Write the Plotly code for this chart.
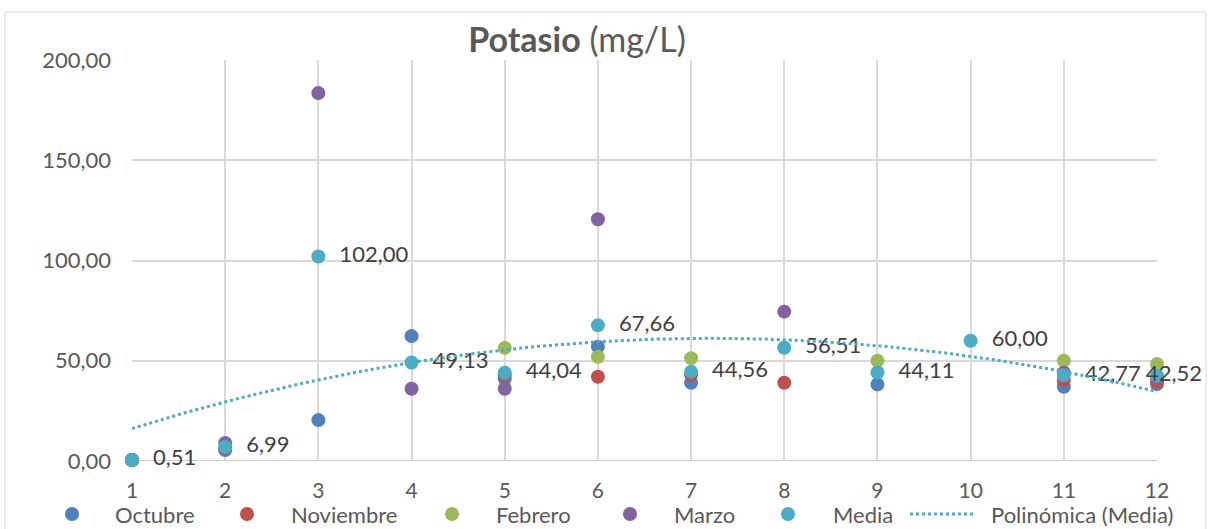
import numpy as np
import plotly.graph_objects as go

months = [1, 2, 3, 4, 5, 6, 7, 8, 9, 10, 11, 12]
octubre = [0.5, 5.5, 20.4, 62.3, 41.0, 57.0, 39.0, None, 38.2, None, 37.0, 38.4]
noviembre = [0.5, 6.5, None, None, 43.0, 42.0, 43.0, 39.0, None, None, 40.4, 39.5]
febrero = [0.5, None, None, None, 56.4, 52.0, 51.3, None, 50.0, None, 50.0, 48.4]
marzo = [0.5, 9.0, 183.5, 36.0, 36.0, 120.6, None, 74.5, None, None, 44.0, 42.0]
media = [0.51, 6.99, 102.00, 49.13, 44.04, 67.66, 44.56, 56.51, 44.11, 60.00, 42.77, 42.52]
media_labels = [f"{v:.2f}".replace(".", ",") for v in media]

FONT = "Lato"
TXT = "#595959"
W, H = 1208, 529
L, R, T, B = 132, 1157, 60, 461


def px(x):
    return (x - L) / (R - L)


def py(y):
    return (B - y) / (B - T)


fig = go.Figure()
series = [
    ("Octubre", octubre, "#4F81BD"),
    ("Noviembre", noviembre, "#C0504D"),
    ("Febrero", febrero, "#9BBB59"),
    ("Marzo", marzo, "#8064A2"),
]
for name, vals, col in series:
    fig.add_trace(go.Scatter(x=months, y=vals, mode="markers", name=name,
                             marker=dict(color=col, size=14), cliponaxis=False,
                             showlegend=False))

# data labels of Media: right of the point, except the last one which Excel pulls
# back inside the chart area
label_text = ["  " + t for t in media_labels[:-1]] + ["      " + media_labels[-1]]
label_pos = ["middle right"] * (len(media) - 1) + ["middle center"]
fig.add_trace(go.Scatter(x=months, y=media, mode="markers+text", name="Media",
                         marker=dict(color="#4BACC6", size=14),
                         text=label_text, textposition=label_pos,
                         textfont=dict(size=22, color="#404040", family=FONT),
                         cliponaxis=False, showlegend=False))

# second-order polynomial trendline of Media (Excel "Polinómica")
coef = np.polyfit(np.array(months, float), np.array(media, float), 2)
xs = np.linspace(1, 12, 200)
fig.add_trace(go.Scatter(x=xs, y=np.polyval(coef, xs), mode="lines", name="Polinómica (Media)",
                         line=dict(color="#4BACC6", width=3, dash="dot"), hoverinfo="skip",
                         showlegend=False))

fig.update_layout(
    width=W, height=H,
    paper_bgcolor="white", plot_bgcolor="white",
    margin=dict(l=L, r=W - R, t=T, b=H - B, autoexpand=False),
    separators=",.",
    font=dict(family=FONT, color=TXT, size=22),
    title=dict(text="<b>Potasio</b> (mg/L)", x=(577 - L) / (R - L), xref="paper",
               xanchor="center", y=1 - 40 / H, yref="container", yanchor="middle",
               font=dict(size=34, color=TXT, family=FONT)),
    xaxis=dict(range=[1, 12], tickmode="linear", tick0=1, dtick=1, showgrid=True,
               gridcolor="#D9D9D9", gridwidth=1.5, zeroline=False, showline=False,
               ticks="", ticklabelstandoff=15, tickfont=dict(size=21, color=TXT)),
    yaxis=dict(range=[0, 200], tickmode="linear", tick0=0, dtick=50, tickformat=".2f",
               showgrid=True, gridcolor="#D9D9D9", gridwidth=1.5, zeroline=False,
               showline=False, ticks="", ticklabelstandoff=20,
               tickfont=dict(size=22, color=TXT)),
    showlegend=False,
)

# axis baseline and chart border
fig.add_shape(type="line", xref="paper", yref="y", x0=0, x1=1, y0=0, y1=0,
              line=dict(color="#BFBFBF", width=1.5), layer="below")
fig.add_shape(type="rect", xref="paper", yref="paper",
              x0=px(5), x1=px(1206), y0=py(540), y1=py(12),
              line=dict(color="#D9D9D9", width=1), layer="below")

# legend drawn along the bottom, as in the original chart
LEG_Y = 514
legend_items = [
    ("Octubre", "#4F81BD", 72, 113, "marker"),
    ("Noviembre", "#C0504D", 247, 289, "marker"),
    ("Febrero", "#9BBB59", 452, 494, "marker"),
    ("Marzo", "#8064A2", 630, 672, "marker"),
    ("Media", "#4BACC6", 788, 831, "marker"),
    ("Polinómica (Media)", "#4BACC6", 942, 989, "line"),
]
for name, col, sx, tx, kind in legend_items:
    if kind == "marker":
        fig.add_shape(type="circle", xref="paper", yref="paper",
                      xsizemode="pixel", ysizemode="pixel",
                      xanchor=px(sx), yanchor=py(LEG_Y),
                      x0=-7, x1=7, y0=-7, y1=7,
                      fillcolor=col, line=dict(color=col, width=0))
    else:
        fig.add_shape(type="line", xref="paper", yref="paper",
                      x0=px(910), x1=px(975), y0=py(LEG_Y), y1=py(LEG_Y),
                      line=dict(color=col, width=3, dash="dot"))
    fig.add_annotation(text=name, xref="paper", yref="paper", x=px(tx), y=py(LEG_Y),
                       xanchor="left", yanchor="middle", showarrow=False,
                       font=dict(size=22, color=TXT, family=FONT))

fig.write_html("out.html", config={"displayModeBar": False},
               post_script="document.body.style.margin='0';")
